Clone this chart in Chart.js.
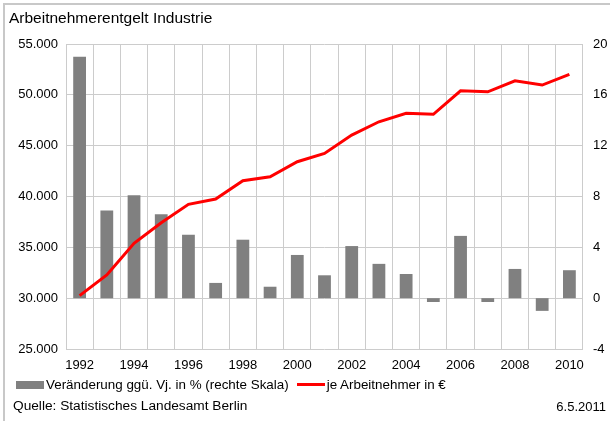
<!DOCTYPE html>
<html lang="de">
<head>
<meta charset="utf-8">
<title>Arbeitnehmerentgelt Industrie</title>
<script src="https://cdn.jsdelivr.net/npm/chart.js@4"></script>
<style>
  body { margin: 0; background: #fff; }
  #wrap {
    position: relative; width: 610px; height: 421px; overflow: hidden;
    font-family: "Liberation Sans", Arial, sans-serif; color: #000;
  }
  #wrap .frame-top { position: absolute; left: 3px; top: 3px; width: 607px; height: 2px; background: #c8c8c8; }
  #wrap .frame-left { position: absolute; left: 3px; top: 3px; width: 2px; height: 418px; background: #c8c8c8; }
  #chart { position: absolute; left: 0; top: 0; }
  .title { position: absolute; left: 9px; top: 9px; font-size: 15.5px; }
  .legend { position: absolute; left: 16px; top: 377px; font-size: 13.4px; display: flex; align-items: center; }
  .legend .box { width: 28px; height: 8px; background: #808080; margin-right: 2px; }
  .legend .line { width: 28px; height: 3px; background: #ff0000; margin: 0 2px 0 8px; }
  .source { position: absolute; left: 13px; top: 398px; font-size: 13.7px; }
  .date { position: absolute; right: 4px; top: 399px; font-size: 13px; }
</style>
</head>
<body>
<div id="wrap">
  <div class="frame-top"></div>
  <div class="frame-left"></div>
  <canvas id="chart" width="610" height="421"></canvas>
  <div class="title">Arbeitnehmerentgelt Industrie</div>
  <div class="legend">
    <span class="box"></span><span>Veränderung ggü. Vj. in % (rechte Skala)</span>
    <span class="line"></span><span>je Arbeitnehmer in €</span>
  </div>
  <div class="source">Quelle: Statistisches Landesamt Berlin</div>
  <div class="date">6.5.2011</div>
</div>
<script>
const years = ['1992', '1993', '1994', '1995', '1996', '1997', '1998', '1999', '2000', '2001',
               '2002', '2003', '2004', '2005', '2006', '2007', '2008', '2009', '2010'];

// Veränderung ggü. Vorjahr in % (rechte Skala)
const changePct = [19.0, 6.9, 8.1, 6.6, 5.0, 1.2, 4.6, 0.9, 3.4, 1.8,
                   4.1, 2.7, 1.9, -0.3, 4.9, -0.3, 2.3, -1.0, 2.2];

// Entgelt je Arbeitnehmer in Euro
const perEmployee = [30250, 32280, 35390, 37420, 39230, 39750, 41550, 41940, 43420, 44240,
                     46040, 47350, 48180, 48080, 50400, 50300, 51380, 50960, 52010];

const leftTicks = { min: 25000, max: 55000, step: 5000 };
const rightTicks = { min: -4, max: 20, step: 4 };

const gridColor = '#cccccc';
const tickFont = { family: '"Liberation Sans", Arial, sans-serif', size: 13 };

function formatThousands(v) {
    return String(v).replace(/\B(?=(\d{3})+(?!\d))/g, '.');
}

const ctx = document.getElementById('chart').getContext('2d');
new Chart(ctx, {
    data: {
        labels: years,
        datasets: [{
            type: 'line',
            label: 'je Arbeitnehmer in €',
            data: perEmployee,
            yAxisID: 'y',
            borderColor: '#ff0000',
            borderWidth: 3,
            pointRadius: 0,
            tension: 0,
            order: 0
        }, {
            type: 'bar',
            label: 'Veränderung ggü. Vj. in % (rechte Skala)',
            data: changePct,
            yAxisID: 'y1',
            backgroundColor: '#808080',
            barPercentage: 0.47,
            categoryPercentage: 1,
            order: 1
        }]
    },
    options: {
        responsive: false,
        animation: false,
        layout: { padding: { top: 44, left: 0, right: 0, bottom: 0 } },
        plugins: {
            legend: { display: false },
            tooltip: { enabled: false }
        },
        scales: {
            x: {
                offset: true,
                grid: { color: gridColor, offset: true, drawTicks: false },
                border: { display: false },
                ticks: {
                    color: '#000',
                    font: tickFont,
                    padding: 9,
                    autoSkip: false,
                    maxRotation: 0,
                    callback: function(val, index) {
                        return index % 2 === 0 ? years[index] : '';
                    }
                },
                afterFit: function(scale) { scale.height = 72; }
            },
            y: {
                position: 'left',
                min: leftTicks.min,
                max: leftTicks.max,
                grid: { color: gridColor, drawTicks: false },
                border: { display: false },
                ticks: {
                    stepSize: leftTicks.step,
                    color: '#000',
                    font: tickFont,
                    padding: 8,
                    callback: function(v) { return formatThousands(v); }
                },
                afterFit: function(scale) { scale.width = 66; }
            },
            y1: {
                position: 'right',
                min: rightTicks.min,
                max: rightTicks.max,
                grid: { display: false, drawTicks: false },
                border: { display: false },
                ticks: {
                    stepSize: rightTicks.step,
                    color: '#000',
                    font: tickFont,
                    padding: 10
                },
                afterFit: function(scale) { scale.width = 27; }
            }
        }
    }
});
</script>
</body>
</html>
